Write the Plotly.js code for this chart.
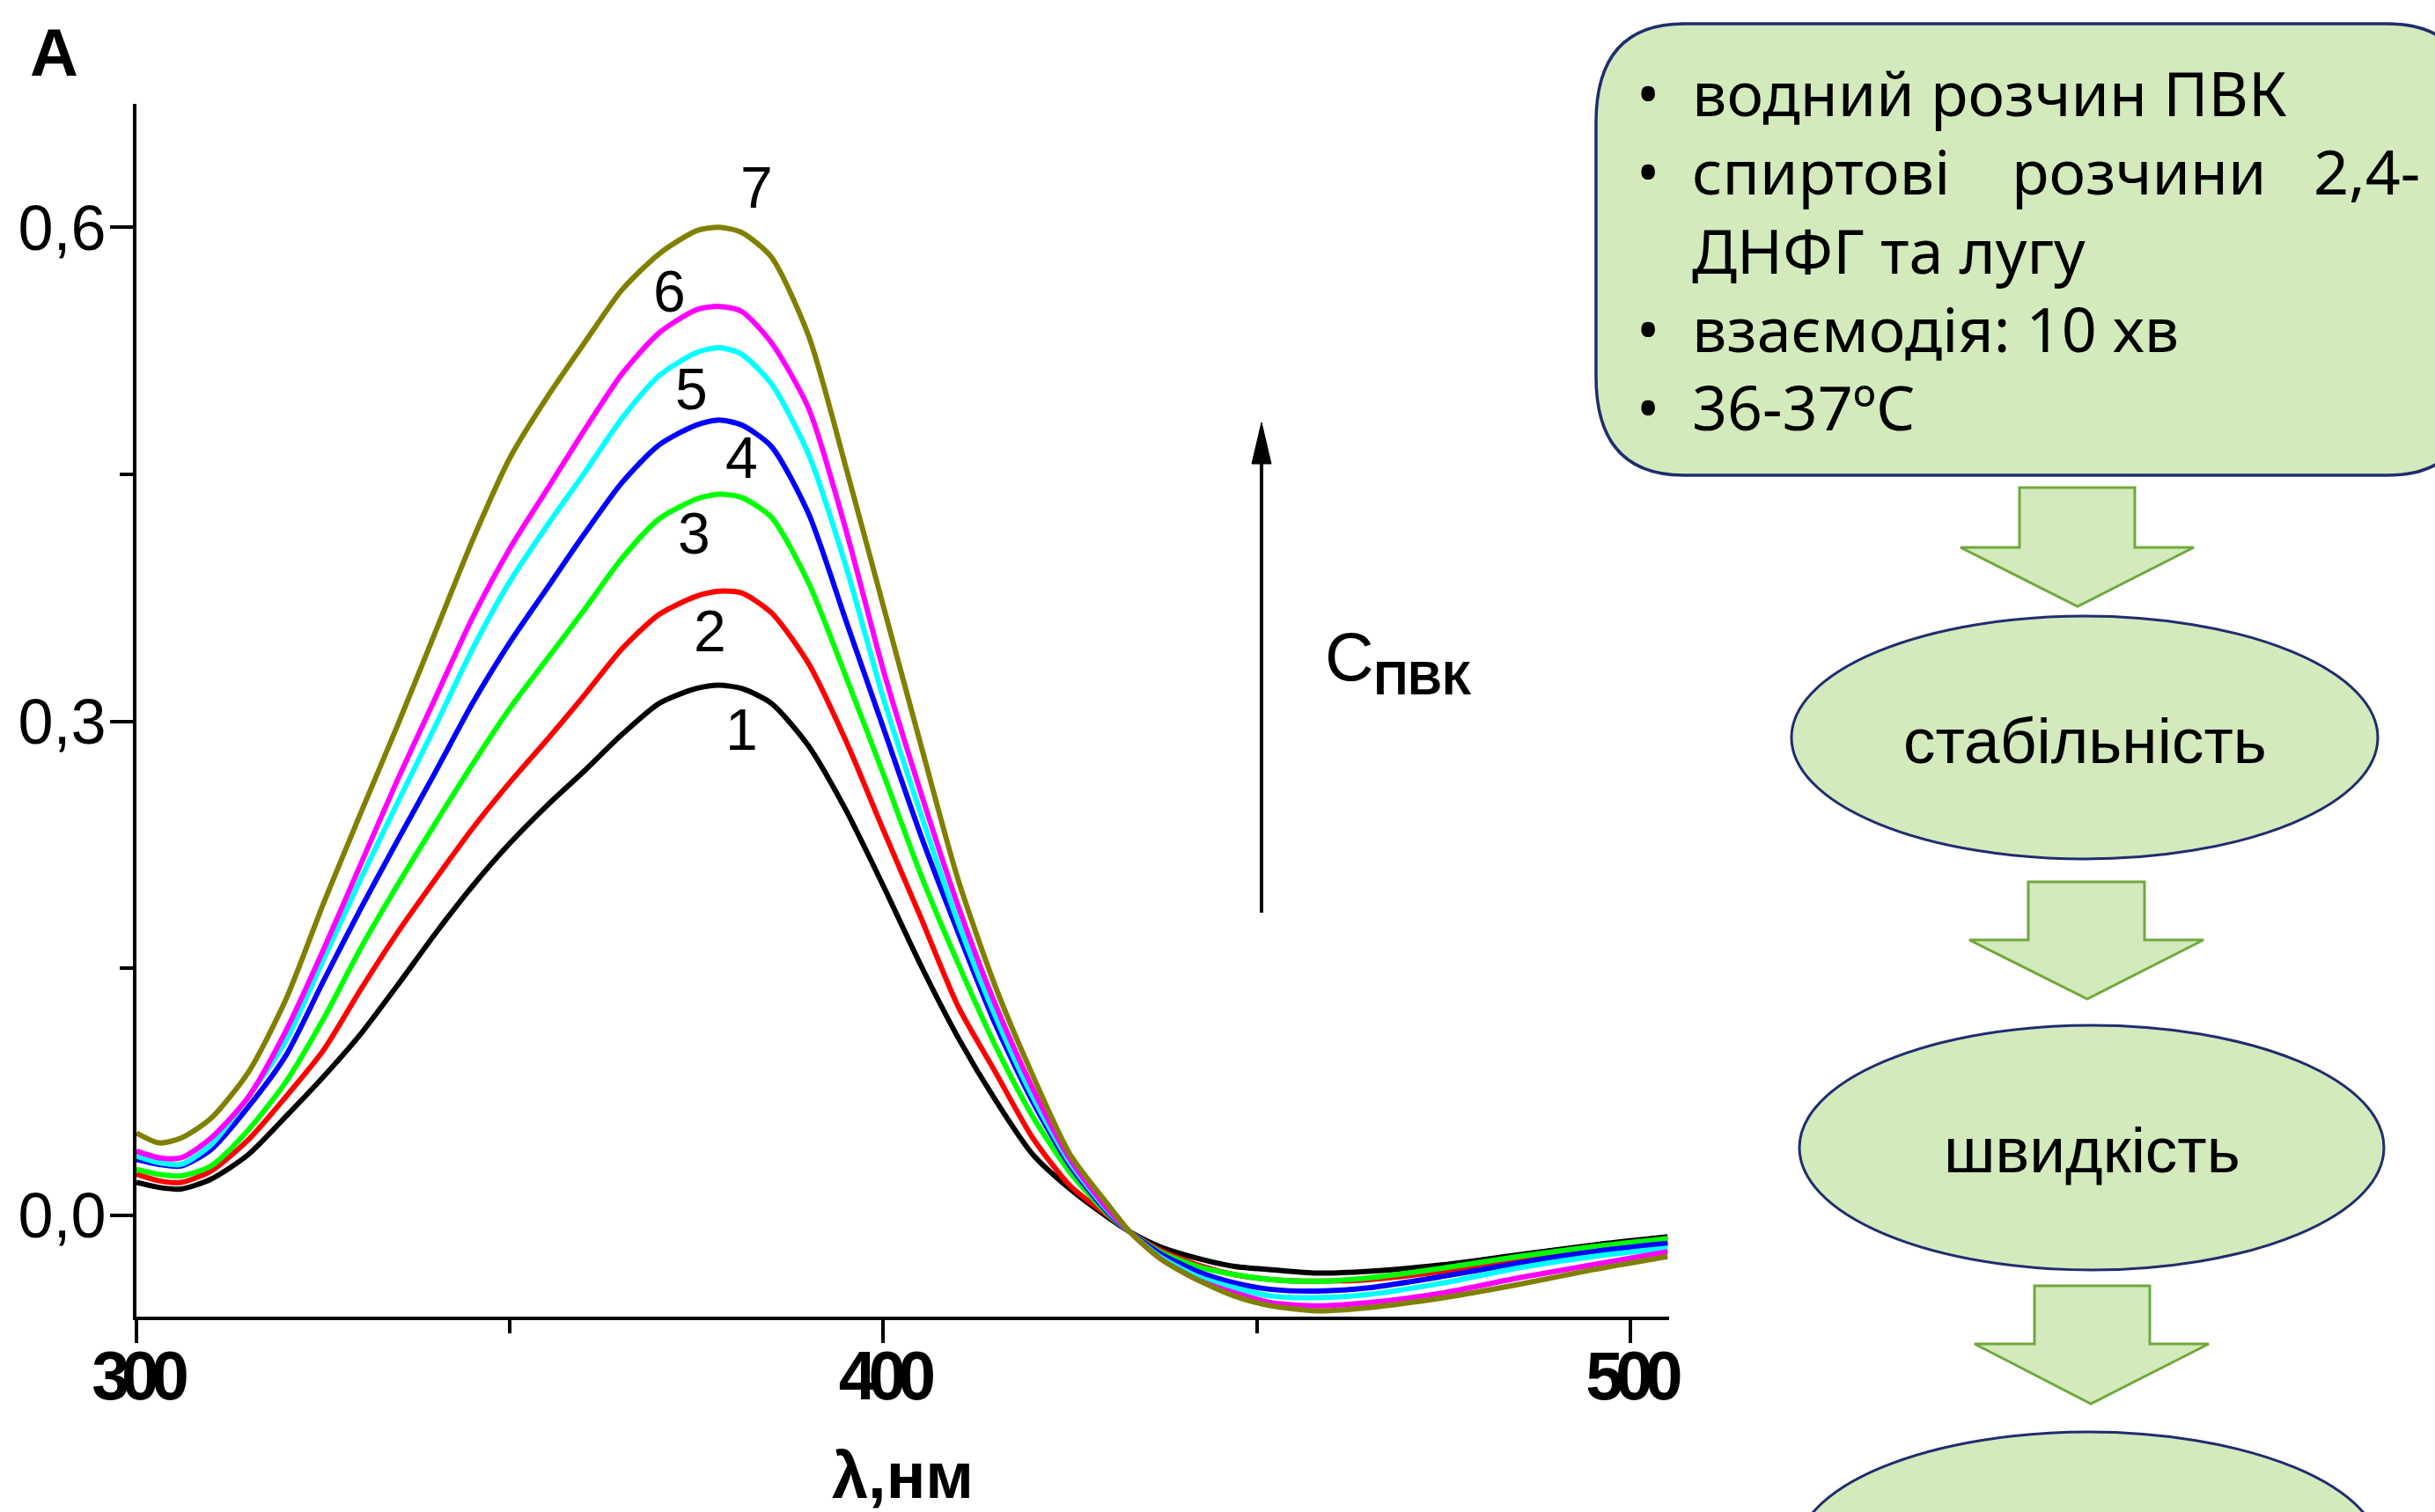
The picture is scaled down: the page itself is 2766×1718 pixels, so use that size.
<!DOCTYPE html>
<html><head><meta charset="utf-8">
<script src="https://cdn.plot.ly/plotly-3.0.1.min.js"></script>
<style>html,body{margin:0;padding:0;background:#fff;}#chart{width:2766px;height:1718px;}
#chart .xtick text{letter-spacing:-9px;}</style>
</head><body><div id="chart"></div>
<script>
// ---------------- data ----------------
const wavelength = [300,303,306,310,315,320,325,330,335,340,345,350,355,360,365,370,375,378,381,385,390,395,400,405,410,415,420,425,430,433,437,442,447,452,458,465,475,485,495,505];
const curve1 = [0.020,0.017,0.016,0.022,0.037,0.060,0.084,0.110,0.140,0.171,0.200,0.226,0.249,0.270,0.292,0.311,0.320,0.322,0.320,0.311,0.285,0.246,0.200,0.152,0.108,0.070,0.037,0.016,-0.001,-0.010,-0.019,-0.026,-0.031,-0.033,-0.035,-0.034,-0.030,-0.024,-0.018,-0.013];
const curve2 = [0.025,0.021,0.020,0.027,0.046,0.072,0.100,0.137,0.172,0.204,0.235,0.263,0.289,0.316,0.344,0.365,0.376,0.379,0.378,0.366,0.335,0.288,0.234,0.181,0.127,0.087,0.047,0.018,0.000,-0.010,-0.021,-0.030,-0.036,-0.039,-0.040,-0.039,-0.034,-0.027,-0.021,-0.016];
const curve3 = [0.028,0.025,0.024,0.030,0.052,0.081,0.119,0.162,0.201,0.238,0.274,0.308,0.338,0.368,0.399,0.423,0.435,0.438,0.436,0.424,0.384,0.327,0.268,0.207,0.153,0.103,0.060,0.026,0.001,-0.010,-0.022,-0.031,-0.036,-0.039,-0.040,-0.038,-0.032,-0.025,-0.019,-0.014];
const curve4 = [0.034,0.031,0.030,0.040,0.066,0.097,0.142,0.186,0.228,0.269,0.311,0.348,0.381,0.414,0.445,0.468,0.480,0.483,0.480,0.467,0.426,0.361,0.296,0.231,0.172,0.116,0.069,0.030,0.002,-0.010,-0.023,-0.034,-0.041,-0.045,-0.046,-0.044,-0.037,-0.029,-0.022,-0.017];
const curve5 = [0.036,0.032,0.031,0.043,0.072,0.106,0.155,0.204,0.251,0.297,0.344,0.385,0.419,0.451,0.484,0.510,0.524,0.527,0.523,0.505,0.462,0.394,0.314,0.244,0.178,0.121,0.072,0.032,0.003,-0.010,-0.025,-0.037,-0.044,-0.049,-0.050,-0.048,-0.041,-0.032,-0.025,-0.020];
const curve6 = [0.039,0.035,0.035,0.047,0.072,0.112,0.161,0.213,0.265,0.314,0.363,0.405,0.441,0.477,0.511,0.536,0.550,0.552,0.549,0.530,0.490,0.416,0.331,0.257,0.188,0.128,0.077,0.034,0.004,-0.010,-0.026,-0.039,-0.047,-0.053,-0.055,-0.053,-0.047,-0.038,-0.030,-0.022];
const curve7 = [0.050,0.044,0.047,0.059,0.087,0.131,0.189,0.244,0.298,0.354,0.410,0.460,0.497,0.530,0.562,0.584,0.598,0.600,0.597,0.582,0.534,0.454,0.370,0.286,0.204,0.139,0.085,0.037,0.007,-0.010,-0.026,-0.039,-0.049,-0.055,-0.058,-0.056,-0.050,-0.042,-0.033,-0.025];
const curveNames = ['1','2','3','4','5','6','7'];
const xTickVals = [300,400,500];
const xTickText = ['300','400','500'];
const xMinorVals = [350,450];
const yTickVals = [0,0.3,0.6];
const yTickText = ['0,0','0,3','0,6'];
const yMinorVals = [0.15,0.45];
const xTitle = 'λ,нм';
const panelLetter = 'A';
const concLabel = 'C<sub><b>ПВК</b></sub>';
const boxLine1 = 'водний розчин ПВК';
const boxLine2 = ['спиртові','розчини','2,4-'];
const boxLine3 = 'ДНФГ та лугу';
const boxLine4 = 'взаємодія: 10 хв';
const boxLine5 = '36-37ºC';
const stepLabels = ['стабільність','швидкість',''];

// ---------------- styles / layout ----------------
const curves = [curve1,curve2,curve3,curve4,curve5,curve6,curve7];
const colors = ['#000000','#ff0000','#00ff00','#0000ff','#00ffff','#ff00ff','#808000'];
const W=2766,H=1718,L=155,R=1896,T=118,B=1496;
const px = X => (X-L)/(R-L);
const py = Y => (B-Y)/(B-T);
const ARIAL='Liberation Sans, Arial, sans-serif';
const BOXFONT='Noto Sans, Open Sans, sans-serif';
const FILL='#d3eabc', NAVY='#1f2d6e', GREEN='#70a83c';

const traces = curves.map((c,i)=>({
  x: wavelength, y: c, type:'scatter', mode:'lines', name: curveNames[i],
  line:{color:colors[i], width:6, shape:'spline', smoothing:0.7}, hoverinfo:'skip'
}));

// curve number label placement (data coords)
const labelPos = [[381.0,0.295],[376.8,0.355],[374.7,0.414],[381.0,0.460],[374.3,0.502],[371.4,0.561],[383.0,0.624]];

const ann = [];
curveNames.forEach((n,i)=>ann.push({x:labelPos[i][0], y:labelPos[i][1], xref:'x', yref:'y', text:n, showarrow:false,
  font:{family:ARIAL,size:66,color:'#000'}, xanchor:'center', yanchor:'middle'}));
ann.push({x:px(61), y:py(60), xref:'paper', yref:'paper', text:'<b>'+panelLetter+'</b>', showarrow:false,
  font:{family:ARIAL,size:76,color:'#000'}, xanchor:'center', yanchor:'middle'});
ann.push({x:px(1503), y:py(752), xref:'paper', yref:'paper', text:concLabel, showarrow:false,
  font:{family:ARIAL,size:77,color:'#000'}, xanchor:'left', yanchor:'middle'});

// box text
const BFS=70, bmid = base => py(base - 0.388*BFS);
const bline = (txt, X, base, anchor) => ann.push({x:px(X), y:bmid(base), xref:'paper', yref:'paper', text:txt, showarrow:false,
  font:{family:BOXFONT,size:BFS,color:'#000'}, xanchor:anchor||'left', yanchor:'middle'});
[[132,true],[221,true],[311,false],[400,true],[489,true]].forEach(([b,has])=>{ if(has) bline('•',1872,b,'center'); });
bline(boxLine1,1920,132);
bline(boxLine2[0],1920,221); bline(boxLine2[1],2283,221); bline(boxLine2[2],2626,221);
bline(boxLine3,1920,311);
bline(boxLine4,1920,400);
bline(boxLine5,1920,489);

// ellipse texts
const ellipses = [[2368,838,333,138],[2376,1304,332,139],[2372,1765,332,138]];
const stepTextY = [842,1306,1765];
stepLabels.forEach((s,i)=>{ if(s) ann.push({x:px(ellipses[i][0]), y:py(stepTextY[i]), xref:'paper', yref:'paper', text:s, showarrow:false,
  font:{family:ARIAL,size:73,color:'#000'}, xanchor:'center', yanchor:'middle'}); });

const shapes = [];
// concentration arrow
shapes.push({type:'line', xref:'paper', yref:'paper', x0:px(1433), x1:px(1433), y0:py(1037), y1:py(515), line:{color:'#000',width:4}});
shapes.push({type:'path', xref:'paper', yref:'paper', path:`M${px(1433)},${py(480)} L${px(1444)},${py(527)} L${px(1422)},${py(527)} Z`, fillcolor:'#000', line:{color:'#000',width:1}});
// rounded box
(function(){
  const l=1813,t=27,r=2812,b=540,rx=100,ry=112;
  const P=(X,Y)=>`${px(X)},${py(Y)}`;
  const path = `M${P(l+rx,t)} L${P(r-rx,t)} Q${P(r,t)} ${P(r,t+ry)} L${P(r,b-ry)} Q${P(r,b)} ${P(r-rx,b)} L${P(l+rx,b)} Q${P(l,b)} ${P(l,b-ry)} L${P(l,t+ry)} Q${P(l,t)} ${P(l+rx,t)} Z`;
  shapes.push({type:'path', xref:'paper', yref:'paper', path, fillcolor:FILL, line:{color:NAVY,width:3.5}, layer:'below'});
})();
// block arrows
const blockArrows = [[2294,2425,554,622,2227,2492,2360,689],[2304,2436,1002,1068,2237,2503,2371,1135],[2311,2442,1461,1527,2243,2509,2375,1595]];
blockArrows.forEach(a=>{
  const [s0,s1,top,base,h0,h1,tx,ty]=a; const P=(X,Y)=>`${px(X)},${py(Y)}`;
  shapes.push({type:'path', xref:'paper', yref:'paper', path:`M${P(s0,top)} L${P(s1,top)} L${P(s1,base)} L${P(h1,base)} L${P(tx,ty)} L${P(h0,base)} L${P(s0,base)} Z`,
    fillcolor:FILL, line:{color:GREEN,width:3}, layer:'below'});
});
ellipses.forEach(e=>{
  const [cx,cy,rx,ry]=e;
  shapes.push({type:'circle', xref:'paper', yref:'paper', x0:px(cx-rx), x1:px(cx+rx), y0:py(cy+ry), y1:py(cy-ry), fillcolor:FILL, line:{color:NAVY,width:3}, layer:'below'});
});

const layout = {
  width:W, height:H, margin:{l:L, r:W-R, t:T, b:H-B, pad:0},
  paper_bgcolor:'#fff', plot_bgcolor:'#fff', showlegend:false,
  xaxis:{range:[300,505.2], showline:true, linewidth:4, linecolor:'#000', zeroline:false, showgrid:false,
    ticks:'outside', ticklen:26, tickwidth:4, tickcolor:'#000', tickmode:'array', tickvals:xTickVals, ticktext:xTickText,
    ticklabelstandoff:-28,
    minor:{tickmode:'array', tickvals:xMinorVals, ticks:'outside', ticklen:15, tickwidth:4, tickcolor:'#000', showgrid:false},
    tickfont:{family:ARIAL, size:77, color:'#000', weight:'bold'},
    title:{text:'<b>'+xTitle+'</b>', font:{family:ARIAL,size:74,color:'#000'}, standoff:58}},
  yaxis:{range:[-0.0615,0.675], showline:true, linewidth:4, linecolor:'#000', zeroline:false, showgrid:false,
    ticks:'outside', ticklen:26, tickwidth:4, tickcolor:'#000', tickmode:'array', tickvals:yTickVals, ticktext:yTickText,
    ticklabelstandoff:-10,
    minor:{tickmode:'array', tickvals:yMinorVals, ticks:'outside', ticklen:15, tickwidth:4, tickcolor:'#000', showgrid:false},
    tickfont:{family:ARIAL, size:72, color:'#000'}},
  annotations:ann, shapes:shapes
};
Plotly.newPlot('chart', traces, layout, {displayModeBar:false, staticPlot:true});
</script></body></html>
